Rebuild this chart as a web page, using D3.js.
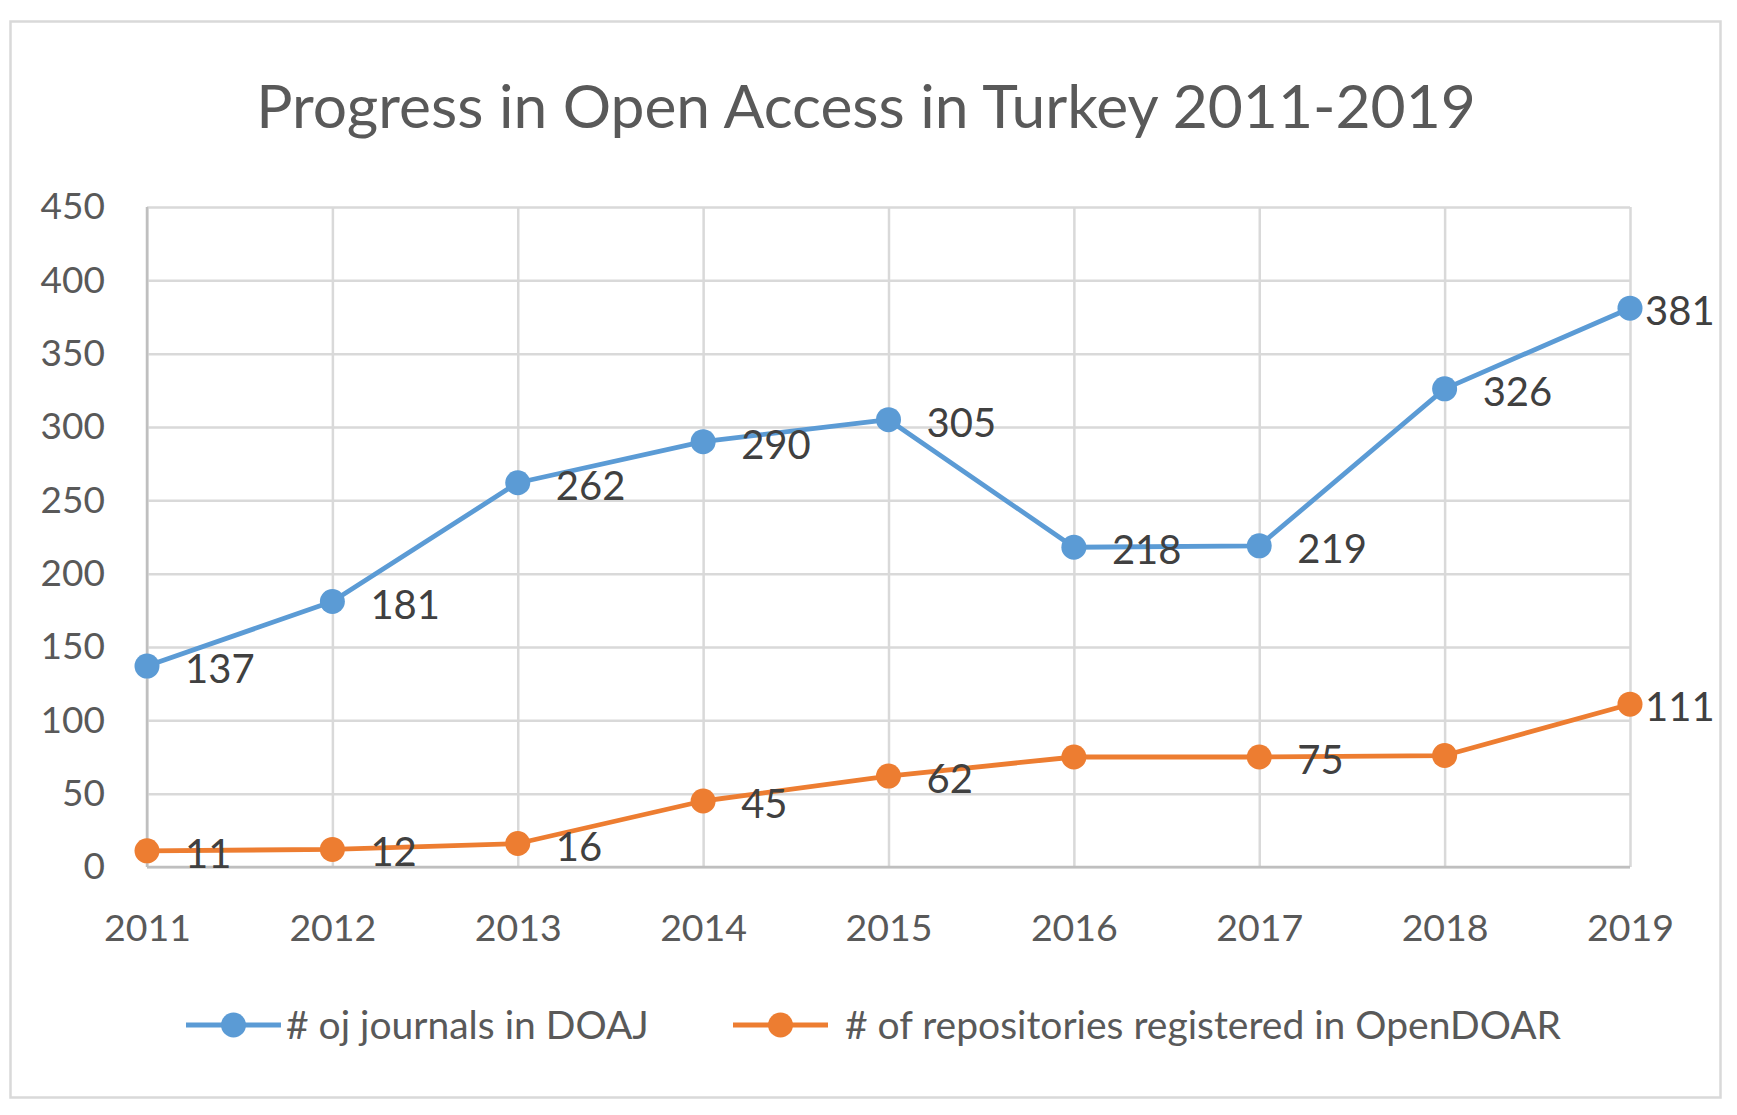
<html>
<head>
  <meta charset="utf-8">
  <script src="https://d3js.org/d3.v7.min.js"></script>
  <style>
    body { margin: 0; background: #fff; }
    text { font-family: Lato, "Open Sans", sans-serif; }
  </style>
</head>
<body>
<script>
  var width = 1737, height = 1115;

  var years = ["2011", "2012", "2013", "2014", "2015", "2016", "2017", "2018", "2019"];
  var doaj = [137, 181, 262, 290, 305, 218, 219, 326, 381];
  var opendoar = [11, 12, 16, 45, 62, 75, 75, 76, 111];
  // the original chart leaves two orange points without a label
  var opendoarLabels = ["11", "12", "16", "45", "62", null, "75", null, "111"];
  var doajLabels = doaj.map(String);
  var yTicks = [0, 50, 100, 150, 200, 250, 300, 350, 400, 450];
  var seriesNames = ["# oj journals in DOAJ", "# of repositories registered in OpenDOAR"];
  var colors = ["#5b9bd5", "#ed7d31"];

  var svg = d3.select("body").append("svg")
      .attr("width", width).attr("height", height)
      .style("background", "#fff");

  // outer chart frame
  svg.append("rect")
      .attr("x", 10.5).attr("y", 21.5)
      .attr("width", 1710).attr("height", 1076)
      .attr("fill", "#fff").attr("stroke", "#d9d9d9").attr("stroke-width", 2.5);

  svg.append("text")
      .attr("x", 866).attr("y", 128)
      .attr("text-anchor", "middle")
      .attr("fill", "#595959")
      .style("font-size", "60.5px")
      .text("Progress in Open Access in Turkey 2011-2019");

  var x = d3.scalePoint().domain(years).range([147, 1630]);
  var y = d3.scaleLinear().domain([0, 450]).range([867, 207]);

  // horizontal grid + y labels
  var yAxis = d3.axisLeft(y).tickValues(yTicks).tickSize(-(1630 - 147)).tickPadding(42);
  var gy = svg.append("g").attr("transform", "translate(147,0)").call(yAxis);
  gy.select(".domain").remove();
  gy.selectAll(".tick line").attr("stroke", "#d9d9d9").attr("stroke-width", 2.5);
  gy.selectAll(".tick text").attr("fill", "#595959").style("font-size", "37px");

  // vertical grid + x labels
  var xAxis = d3.axisBottom(x).tickSize(-(867 - 207)).tickPadding(47);
  var gx = svg.append("g").attr("transform", "translate(0,867)").call(xAxis);
  gx.select(".domain").remove();
  gx.selectAll(".tick line").attr("stroke", "#d9d9d9").attr("stroke-width", 2.5);
  gx.selectAll(".tick text").attr("fill", "#595959").style("font-size", "37.5px");

  // axis lines slightly darker
  svg.append("line").attr("x1", 147).attr("x2", 1630).attr("y1", y(0)).attr("y2", y(0))
      .attr("stroke", "#bfbfbf").attr("stroke-width", 2.5);
  svg.append("line").attr("x1", 147).attr("x2", 147).attr("y1", y(0)).attr("y2", y(450))
      .attr("stroke", "#bfbfbf").attr("stroke-width", 2.5);

  var series = [
    { values: doaj, labels: doajLabels, color: colors[0] },
    { values: opendoar, labels: opendoarLabels, color: colors[1] }
  ];

  var line = d3.line()
      .x(function(d, i) { return x(years[i]); })
      .y(function(d) { return y(d); });

  series.forEach(function(s) {
    svg.append("path")
        .datum(s.values)
        .attr("d", line)
        .attr("fill", "none")
        .attr("stroke", s.color)
        .attr("stroke-width", 4.8)
        .attr("stroke-linejoin", "round");

    svg.selectAll(null).data(s.values).enter().append("circle")
        .attr("cx", function(d, i) { return x(years[i]); })
        .attr("cy", function(d) { return y(d); })
        .attr("r", 12.5)
        .attr("fill", s.color);
  });

  series.forEach(function(s) {
    var pts = s.values.map(function(v, i) {
      return { year: years[i], value: v, label: s.labels[i], last: i === years.length - 1 };
    }).filter(function(p) { return p.label != null; });

    svg.selectAll(null).data(pts).enter().append("text")
        .attr("x", function(p) { return x(p.year) + (p.last ? 15 : 38); })
        .attr("y", function(p) { return y(p.value) + 3; })
        .attr("dy", "0.35em")
        .attr("fill", "#404040")
        .style("font-size", "40px")
        .text(function(p) { return p.label; });
  });

  // legend
  var legendItems = [
    { name: seriesNames[0], color: colors[0], x0: 186, tx: 286 },
    { name: seriesNames[1], color: colors[1], x0: 733, tx: 845 }
  ];
  var lg = svg.append("g").attr("transform", "translate(0,1025)");
  legendItems.forEach(function(d) {
    lg.append("line").attr("x1", d.x0).attr("x2", d.x0 + 95).attr("y1", 0).attr("y2", 0)
        .attr("stroke", d.color).attr("stroke-width", 4.8);
    lg.append("circle").attr("cx", d.x0 + 47.5).attr("cy", 0).attr("r", 12.5).attr("fill", d.color);
    lg.append("text").attr("x", d.tx).attr("y", 0).attr("dy", "0.35em")
        .attr("fill", "#595959").style("font-size", "39px")
        .text(d.name);
  });
</script>
</body>
</html>
